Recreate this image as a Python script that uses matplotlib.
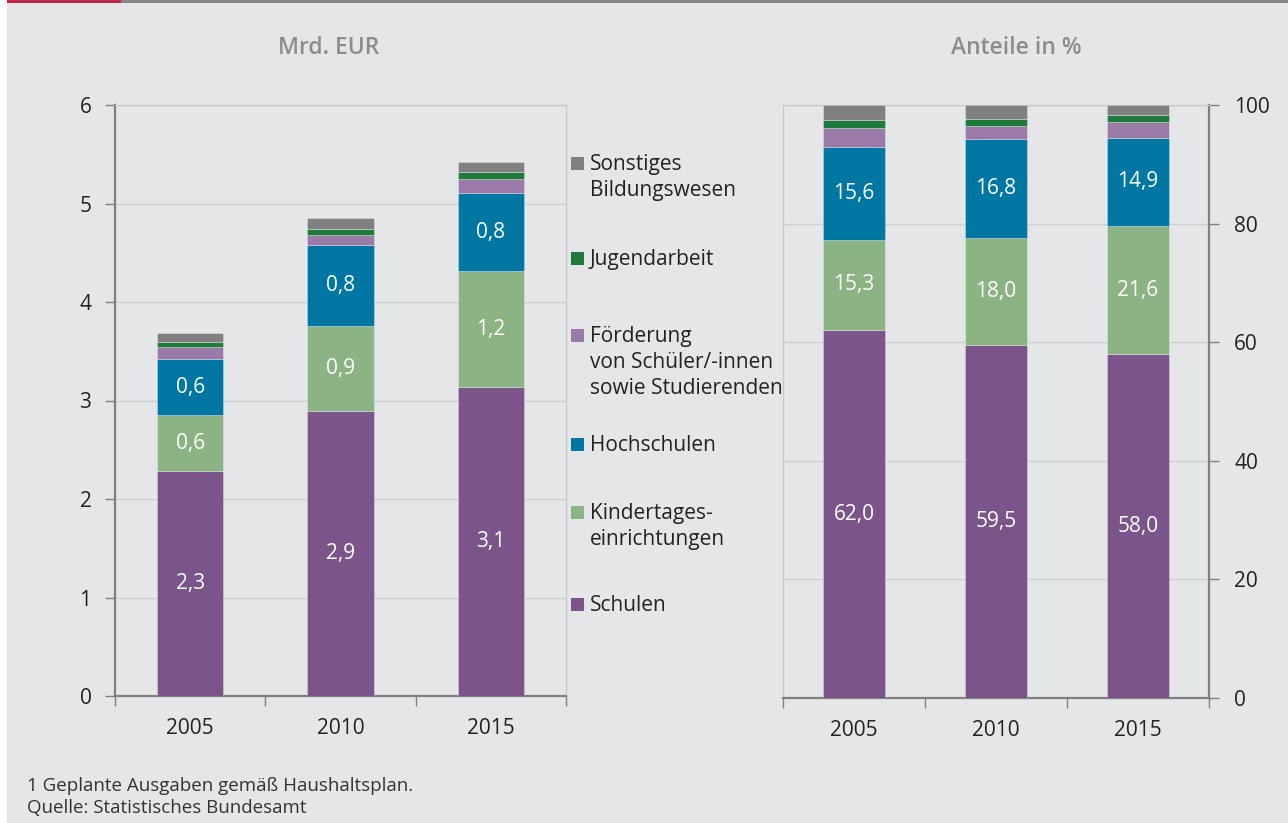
import numpy as np
import matplotlib
matplotlib.use("Agg")
import matplotlib.pyplot as plt
from matplotlib.patches import Rectangle

plt.rcParams['font.family'] = ['Open Sans', 'DejaVu Sans']

# --- Daten ---
jahre = ['2005', '2010', '2015']
kategorien = ['Schulen', 'Kindertages-\neinrichtungen', 'Hochschulen',
              'Förderung\nvon Schüler/-innen\nsowie Studierenden',
              'Jugendarbeit', 'Sonstiges\nBildungswesen']
farben = ['#7b5589', '#8cb384', '#0076a3', '#9a7aa6', '#1e7b3b', '#808080']

# Mrd. EUR
schulen_mrd = [2.28, 2.89, 3.14]
kita_mrd = [0.57, 0.87, 1.17]
hochschulen_mrd = [0.57, 0.82, 0.80]
foerderung_mrd = [0.12, 0.10, 0.14]
jugend_mrd = [0.05, 0.06, 0.07]
sonstiges_mrd = [0.10, 0.11, 0.10]

# Anteile in %
schulen_pct = [62.0, 59.5, 58.0]
kita_pct = [15.3, 18.0, 21.6]
hochschulen_pct = [15.6, 16.8, 14.9]
foerderung_pct = [3.2, 2.2, 2.6]
jugend_pct = [1.3, 1.2, 1.2]
sonstiges_pct = [2.6, 2.3, 1.7]

serien_mrd = [schulen_mrd, kita_mrd, hochschulen_mrd, foerderung_mrd, jugend_mrd, sonstiges_mrd]
serien_pct = [schulen_pct, kita_pct, hochschulen_pct, foerderung_pct, jugend_pct, sonstiges_pct]
beschriftet = [0, 1, 2]  # Serien mit Werten im Balken

HG = '#e5e6e8'
SPINE = '#808080'
GRID = '#d0d1d3'

W, H = 1288, 823
fig = plt.figure(figsize=(W / 100, H / 100), dpi=100, facecolor='white')

# Hintergrund und obere Linie
fig.patches.append(Rectangle((7 / W, 0), 1 - 7 / W, 1, transform=fig.transFigure,
                             facecolor=HG, edgecolor='none', zorder=-10))
fig.patches.append(Rectangle((7 / W, 1 - 3 / H), (121 - 7) / W, 3 / H, transform=fig.transFigure,
                             facecolor='#c0274a', edgecolor='none', zorder=-5))
fig.patches.append(Rectangle((121 / W, 1 - 3 / H), 1 - 121 / W, 3 / H, transform=fig.transFigure,
                             facecolor='#858585', edgecolor='none', zorder=-5))

ax1 = fig.add_axes([115 / W, 1 - 696 / H, 451 / W, 591 / H])
ax2 = fig.add_axes([783 / W, 1 - 698 / H, 426 / W, 593 / H])

x = np.arange(len(jahre)) + 0.5


def stapel(ax, serien, breite, fmt):
    unten = np.zeros(len(jahre))
    for i, werte in enumerate(serien):
        werte = np.array(werte)
        ax.bar(x, werte, breite, bottom=unten, color=farben[i],
               edgecolor=(1, 1, 1, 0.35), linewidth=0.6, zorder=3)
        if i in beschriftet:
            for xi, u, v in zip(x, unten, werte):
                ax.text(xi, u + v / 2, fmt(v), ha='center', va='center',
                        color='white', fontsize=15, zorder=4)
        unten += werte


def stil(ax, ylim, yticks, rechts):
    ax.set_facecolor(HG)
    ax.set_xlim(0, 3)
    ax.set_ylim(*ylim)
    ax.set_yticks(yticks)
    ax.set_xticks([0, 1, 2, 3])
    ax.set_xticklabels([])
    ax.set_xticks(x, minor=True)
    ax.set_xticklabels(jahre, minor=True)
    ax.tick_params(axis='x', which='major', direction='out', length=7, width=1, color=SPINE)
    ax.tick_params(axis='x', which='minor', length=0, pad=16, labelsize=15, labelcolor='#222222')
    ax.grid(axis='y', color=GRID, linewidth=1, zorder=0)
    ax.set_axisbelow(True)
    for s in ax.spines.values():
        s.set_color('#c8c9cb')
        s.set_linewidth(1)
    ax.spines['bottom'].set_color(SPINE)
    ax.spines['bottom'].set_linewidth(1.6)
    if rechts:
        ax.yaxis.tick_right()
        ax.spines['right'].set_color(SPINE)
        ax.spines['right'].set_linewidth(1.6)
        ax.tick_params(axis='y', direction='out', length=7, width=1, color=SPINE,
                       pad=11, labelsize=15, labelcolor='#222222')
    else:
        ax.spines['left'].set_color(SPINE)
        ax.spines['left'].set_linewidth(1.6)
        ax.tick_params(axis='y', direction='out', length=7, width=1, color=SPINE,
                       pad=10, labelsize=15, labelcolor='#222222')


stapel(ax1, serien_mrd, 0.44, lambda v: f'{v:.1f}'.replace('.', ','))
stapel(ax2, serien_pct, 0.436, lambda v: f'{v:.1f}'.replace('.', ','))
stil(ax1, (0, 6), range(0, 7), False)
stil(ax2, (0, 100), range(0, 101, 20), True)

fig.text(329 / W, 1 - 48 / H, 'Mrd. EUR', ha='center', va='center',
         fontsize=16.5, color='#8c8c8c', fontweight='semibold')
fig.text(1016 / W, 1 - 48 / H, 'Anteile in %', ha='center', va='center',
         fontsize=16.5, color='#8c8c8c', fontweight='semibold')

# Legende (von oben nach unten)
leg_y = [163, 258, 335, 444, 512, 604]
for idx, yy in zip(range(5, -1, -1), leg_y):
    fig.patches.append(Rectangle((571 / W, 1 - (yy + 6.5) / H), 13 / W, 13 / H,
                                 transform=fig.transFigure, facecolor=farben[idx],
                                 edgecolor='none'))
    fig.text(590 / W, 1 - (yy - 9) / H, kategorien[idx], ha='left', va='top',
             fontsize=15, color='#222222', linespacing=1.3)

fig.text(27 / W, 1 - 786 / H, '1 Geplante Ausgaben gemäß Haushaltsplan.', ha='left',
         va='center', fontsize=13.5, color='#333333')
fig.text(27 / W, 1 - 808 / H, 'Quelle: Statistisches Bundesamt', ha='left',
         va='center', fontsize=13.5, color='#333333')

fig.savefig('out.png', dpi=100, facecolor=fig.get_facecolor())
